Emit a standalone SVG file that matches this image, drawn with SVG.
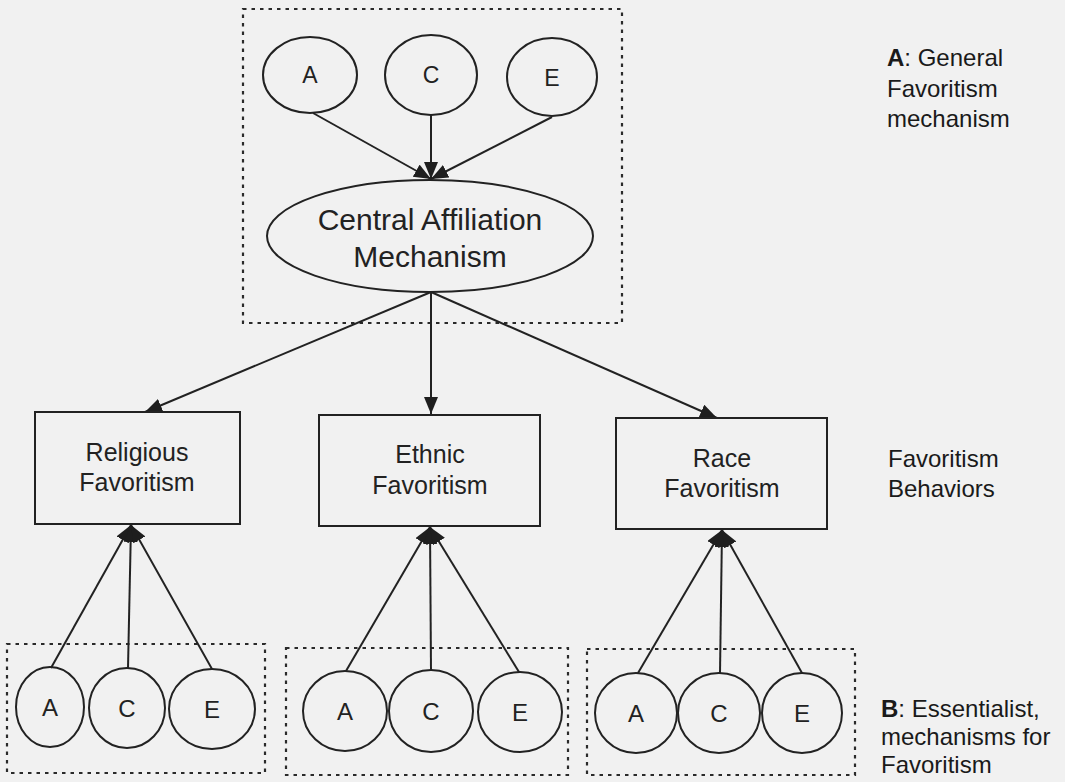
<svg xmlns="http://www.w3.org/2000/svg" width="1065" height="782" viewBox="0 0 1065 782">
  <defs>
    <marker id="arrow" markerUnits="userSpaceOnUse" markerWidth="19" markerHeight="15" refX="17" refY="7" orient="auto">
      <path d="M0,0 L17,7 L0,14 z" fill="#1e1e1e"/>
    </marker>
    <style>
      .node { fill: none; stroke: #222; stroke-width: 2; }
      .group { fill: none; stroke: #2a2a2a; stroke-width: 2.2; stroke-dasharray: 3.5 5; }
      .edge { fill: none; stroke: #222; stroke-width: 2; }
      .arr { marker-end: url(#arrow); }
      .lbl { font-family: "Liberation Sans", Arial, sans-serif; fill: #222; text-anchor: middle; }
      .side { font-family: "Liberation Sans", Arial, sans-serif; fill: #1a1a1a; font-size: 24px; }
    </style>
  </defs>

  <rect x="0" y="0" width="1065" height="782" fill="#f1f1f1"/>

  <!-- dashed grouping frames -->
  <g id="frames">
    <rect class="group" x="243" y="9" width="379" height="314"/>
    <rect class="group" x="7" y="644" width="258" height="129"/>
    <rect class="group" x="286" y="648" width="282" height="127"/>
    <rect class="group" x="587" y="649" width="268" height="126"/>
  </g>

  <!-- connectors -->
  <g id="connectors">
    <line class="edge arr" x1="313" y1="113" x2="431" y2="179"/>
    <line class="edge arr" x1="431" y1="115" x2="431" y2="179"/>
    <line class="edge arr" x1="552" y1="117" x2="431" y2="179"/>

    <line class="edge arr" x1="431" y1="292" x2="145" y2="412"/>
    <line class="edge arr" x1="431" y1="292" x2="431" y2="414"/>
    <line class="edge arr" x1="431" y1="292" x2="717" y2="418"/>

    <line class="edge arr" x1="51" y1="668" x2="131" y2="525"/>
    <line class="edge arr" x1="128" y1="668" x2="131" y2="525"/>
    <line class="edge arr" x1="212" y1="669" x2="131" y2="525"/>

    <line class="edge arr" x1="346" y1="671" x2="430" y2="527"/>
    <line class="edge arr" x1="431" y1="671" x2="430" y2="527"/>
    <line class="edge arr" x1="519" y1="672" x2="430" y2="527"/>

    <line class="edge arr" x1="638" y1="673" x2="722" y2="530"/>
    <line class="edge arr" x1="720" y1="673" x2="722" y2="530"/>
    <line class="edge arr" x1="802" y1="673" x2="722" y2="530"/>
  </g>

  <!-- general mechanism -->
  <g id="top-A">
    <ellipse class="node" cx="310" cy="75" rx="47" ry="38"/>
    <text class="lbl" x="310" y="83" font-size="23">A</text>
  </g>
  <g id="top-C">
    <ellipse class="node" cx="431" cy="75" rx="46" ry="40"/>
    <text class="lbl" x="431" y="83" font-size="23">C</text>
  </g>
  <g id="top-E">
    <ellipse class="node" cx="552" cy="77" rx="45" ry="39"/>
    <text class="lbl" x="552" y="86" font-size="23">E</text>
  </g>
  <g id="central">
    <ellipse class="node" cx="430" cy="236" rx="163" ry="56"/>
    <text class="lbl" x="430" y="230" font-size="30">Central Affiliation</text>
    <text class="lbl" x="430" y="267" font-size="30">Mechanism</text>
  </g>

  <!-- favoritism behaviors -->
  <g id="religious">
    <rect class="node" x="35" y="412" width="205" height="112"/>
    <text class="lbl" x="137" y="461" font-size="25">Religious</text>
    <text class="lbl" x="137" y="491" font-size="25">Favoritism</text>
  </g>
  <g id="ethnic">
    <rect class="node" x="319" y="415" width="221" height="111"/>
    <text class="lbl" x="430" y="463" font-size="25">Ethnic</text>
    <text class="lbl" x="430" y="494" font-size="25">Favoritism</text>
  </g>
  <g id="race">
    <rect class="node" x="616" y="418" width="211" height="111"/>
    <text class="lbl" x="722" y="467" font-size="25">Race</text>
    <text class="lbl" x="722" y="497" font-size="25">Favoritism</text>
  </g>

  <!-- essentialist mechanisms -->
  <g id="rel-A"><ellipse class="node" cx="50" cy="707" rx="34" ry="40"/><text class="lbl" x="50" y="716" font-size="24">A</text></g>
  <g id="rel-C"><ellipse class="node" cx="127" cy="708" rx="38" ry="40"/><text class="lbl" x="127" y="717" font-size="24">C</text></g>
  <g id="rel-E"><ellipse class="node" cx="212" cy="709" rx="43" ry="40"/><text class="lbl" x="212" y="718" font-size="24">E</text></g>

  <g id="eth-A"><ellipse class="node" cx="345" cy="711" rx="42" ry="40"/><text class="lbl" x="345" y="720" font-size="24">A</text></g>
  <g id="eth-C"><ellipse class="node" cx="431" cy="711" rx="42" ry="41"/><text class="lbl" x="431" y="720" font-size="24">C</text></g>
  <g id="eth-E"><ellipse class="node" cx="520" cy="712" rx="42" ry="40"/><text class="lbl" x="520" y="721" font-size="24">E</text></g>

  <g id="race-A"><ellipse class="node" cx="636" cy="713" rx="41" ry="40"/><text class="lbl" x="636" y="722" font-size="24">A</text></g>
  <g id="race-C"><ellipse class="node" cx="719" cy="713" rx="41" ry="40"/><text class="lbl" x="719" y="722" font-size="24">C</text></g>
  <g id="race-E"><ellipse class="node" cx="802" cy="713" rx="40" ry="40"/><text class="lbl" x="802" y="722" font-size="24">E</text></g>

  <!-- side captions -->
  <g id="caption-A">
    <text class="side" x="887" y="66"><tspan font-weight="bold">A</tspan>: General</text>
    <text class="side" x="887" y="97">Favoritism</text>
    <text class="side" x="887" y="127">mechanism</text>
  </g>
  <g id="caption-behaviors">
    <text class="side" x="888" y="467">Favoritism</text>
    <text class="side" x="888" y="497">Behaviors</text>
  </g>
  <g id="caption-B">
    <text class="side" x="881" y="717"><tspan font-weight="bold">B</tspan>: Essentialist,</text>
    <text class="side" x="881" y="745">mechanisms for</text>
    <text class="side" x="881" y="773">Favoritism</text>
  </g>
</svg>
